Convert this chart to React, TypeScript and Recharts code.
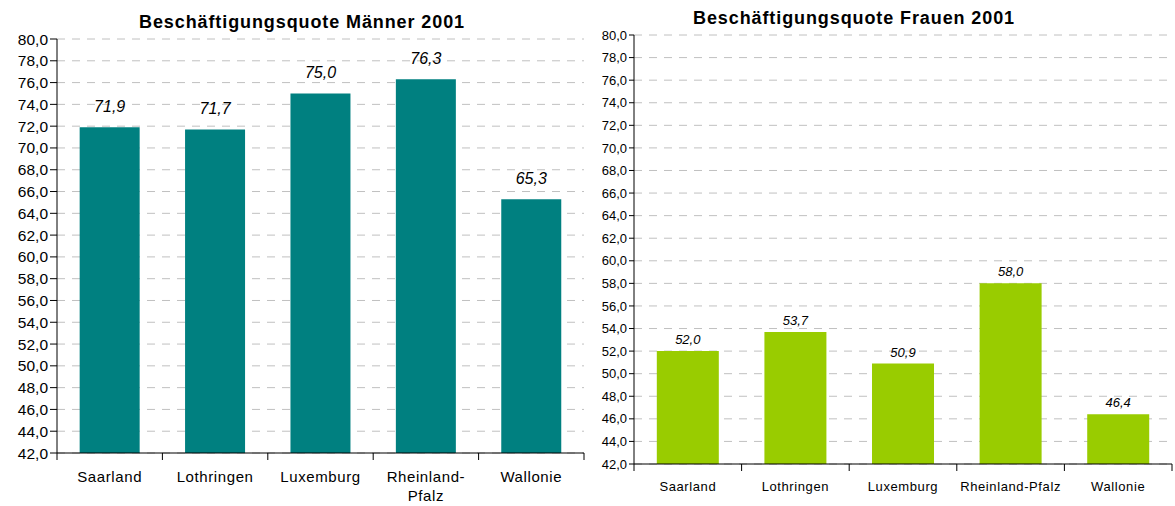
import React from "react";
import {
  BarChart,
  Bar,
  XAxis,
  YAxis,
  CartesianGrid,
  LabelList,
} from "recharts";

const regions = ["Saarland", "Lothringen", "Luxemburg", "Rheinland-Pfalz", "Wallonie"];
const maenner = [71.9, 71.7, 75.0, 76.3, 65.3];
const frauen = [52.0, 53.7, 50.9, 58.0, 46.4];
const yTicks = [42, 44, 46, 48, 50, 52, 54, 56, 58, 60, 62, 64, 66, 68, 70, 72, 74, 76, 78, 80];

const maennerData = regions.map((r, i) => ({ region: r, value: maenner[i] }));
const frauenData = regions.map((r, i) => ({ region: r, value: frauen[i] }));

const FONT = "'Liberation Sans', Arial, sans-serif";
const fmt = (v: any) => Number(v).toFixed(1).replace(".", ",");

// category ticks sit on the category borders, like in Excel
const makeTick = (band: number, fontSize: number, splitHyphen: boolean) => (props: any) => {
  const { x, y, payload, index } = props;
  const label: string = payload.value;
  const lines = splitHyphen && label.includes("-") ? [label.split("-")[0] + "-", label.split("-")[1]] : [label];
  return (
    <g>
      <line x1={x - band / 2} x2={x - band / 2} y1={y - 8} y2={y - 1} stroke="#000" />
      {index === regions.length - 1 && (
        <line x1={x + band / 2} x2={x + band / 2} y1={y - 8} y2={y - 1} stroke="#000" />
      )}
      <text
        x={x}
        y={y + fontSize + 6}
        textAnchor="middle"
        fontSize={fontSize}
        fontFamily={FONT}
        fill="#000"
        style={{ letterSpacing: 0.6 }}
      >
        {lines.map((l, i) => (
          <tspan key={i} x={x} dy={i === 0 ? 0 : fontSize + 4}>
            {l}
          </tspan>
        ))}
      </text>
    </g>
  );
};

const titleStyle: React.CSSProperties = {
  position: "absolute",
  fontFamily: FONT,
  fontWeight: "bold",
  fontSize: 18,
  letterSpacing: 0.9,
  color: "#000",
  whiteSpace: "nowrap",
  transform: "translateX(-50%)",
};

export default function App() {
  return (
    <div style={{ position: "absolute", left: 0, top: 0, width: 1175, height: 506, background: "#fff" }}>
      <div style={{ ...titleStyle, left: 302, top: 12 }}>Beschäftigungsquote Männer 2001</div>
      <div style={{ ...titleStyle, left: 854, top: 8 }}>Beschäftigungsquote Frauen 2001</div>

      <div style={{ position: "absolute", left: 0, top: 0 }}>
        <BarChart
          width={590}
          height={506}
          data={maennerData}
          margin={{ top: 39, right: 6, left: 0, bottom: 0 }}
          barCategoryGap="21.5%"
        >
          <CartesianGrid vertical={false} stroke="#c0c0c0" strokeDasharray="8 7" />
          <XAxis
            dataKey="region"
            height={53}
            interval={0}
            axisLine={{ stroke: "#000" }}
            tickLine={false}
            tick={makeTick(527 / 5, 15, true)}
          />
          <YAxis
            width={57}
            domain={[42, 80]}
            ticks={yTicks}
            interval={0}
            axisLine={{ stroke: "#000" }}
            tickLine={{ stroke: "#000" }}
            tickSize={7}
            tickFormatter={fmt}
            tick={{ fontSize: 15.5, fontFamily: FONT, fill: "#000" }}
          />
          <Bar dataKey="value" fill="#008080" isAnimationActive={false}>
            <LabelList
              dataKey="value"
              position="top"
              offset={15}
              formatter={fmt}
              style={{ fontSize: 16, fontStyle: "italic", fontFamily: FONT, fill: "#000" }}
            />
          </Bar>
        </BarChart>
      </div>

      <div style={{ position: "absolute", left: 590, top: 0 }}>
        <BarChart
          width={585}
          height={506}
          data={frauenData}
          margin={{ top: 35, right: 3, left: 0, bottom: 0 }}
          barCategoryGap="21.2%"
        >
          <CartesianGrid vertical={false} stroke="#c0c0c0" strokeDasharray="8 7" />
          <XAxis
            dataKey="region"
            height={42}
            interval={0}
            axisLine={{ stroke: "#000" }}
            tickLine={false}
            tick={makeTick(538 / 5, 13, false)}
          />
          <YAxis
            width={44}
            domain={[42, 80]}
            ticks={yTicks}
            interval={0}
            axisLine={{ stroke: "#000" }}
            tickLine={{ stroke: "#000" }}
            tickSize={5}
            tickFormatter={fmt}
            tick={{ fontSize: 13, fontFamily: FONT, fill: "#000" }}
          />
          <Bar dataKey="value" fill="#99cc00" isAnimationActive={false}>
            <LabelList
              dataKey="value"
              position="top"
              offset={7}
              formatter={fmt}
              style={{ fontSize: 13, fontStyle: "italic", fontFamily: FONT, fill: "#000" }}
            />
          </Bar>
        </BarChart>
      </div>
    </div>
  );
}
